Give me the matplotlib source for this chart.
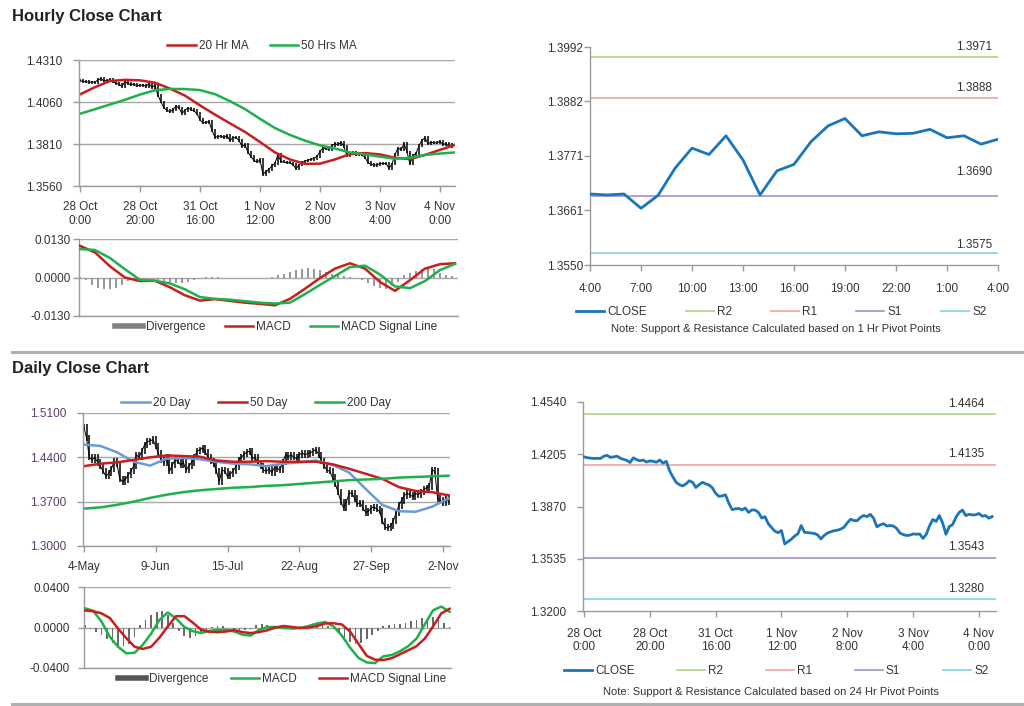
import numpy as np
import matplotlib
matplotlib.use('Agg')
import matplotlib.pyplot as plt
from matplotlib.lines import Line2D
from matplotlib.ticker import FormatStrFormatter

plt.rcParams['font.family'] = ['Liberation Sans', 'DejaVu Sans']

# ---------------- data ----------------
# hourly closes, 28 Oct 0:00 .. 4 Nov 4:00 (one value per hour)
hourly_close = [
    1.4188, 1.4183, 1.4180, 1.4178, 1.4179, 1.4178, 1.4192, 1.4198, 1.4185, 1.4188,
    1.4193, 1.4180, 1.4172, 1.4166, 1.4152, 1.4182, 1.4170, 1.4163, 1.4168, 1.4155,
    1.4162, 1.4160, 1.4154, 1.4168, 1.4148, 1.4160, 1.4100, 1.4060, 1.4025, 1.4010,
    1.4002, 1.4015, 1.4035, 1.4025, 1.3992, 1.4010, 1.4025, 1.4015, 1.4008, 1.3990,
    1.3955, 1.3935, 1.3938, 1.3945, 1.3892, 1.3850, 1.3855, 1.3858, 1.3848, 1.3860,
    1.3832, 1.3848, 1.3847, 1.3832, 1.3796, 1.3805, 1.3760, 1.3735, 1.3712, 1.3702,
    1.3716, 1.3630, 1.3645, 1.3660, 1.3680, 1.3695, 1.3748, 1.3705, 1.3702, 1.3700,
    1.3697, 1.3688, 1.3662, 1.3685, 1.3700, 1.3708, 1.3715, 1.3718, 1.3725, 1.3737,
    1.3765, 1.3788, 1.3780, 1.3779, 1.3800, 1.3812, 1.3805, 1.3820, 1.3795, 1.3740,
    1.3752, 1.3760, 1.3745, 1.3748, 1.3745, 1.3730, 1.3700, 1.3690, 1.3684, 1.3686,
    1.3694, 1.3692, 1.3694, 1.3665, 1.3691, 1.3746, 1.3787, 1.3774, 1.3812, 1.3763,
    1.3692, 1.3741, 1.3754, 1.3800, 1.3832, 1.3847, 1.3812, 1.3820, 1.3816, 1.3817,
    1.3825, 1.3808, 1.3812, 1.3795, 1.3805]
hourly_ticks = ['28 Oct\n0:00', '28 Oct\n20:00', '31 Oct\n16:00', '1 Nov\n12:00',
                '2 Nov\n8:00', '3 Nov\n4:00', '4 Nov\n0:00']

# moving averages, every 5 hours
ma_step_h = 5
ma20_hr = [1.4105, 1.4148, 1.4185, 1.4192, 1.4189, 1.4175, 1.4140, 1.4098, 1.4040, 1.3985,
           1.3933, 1.3882, 1.3822, 1.3760, 1.3718, 1.3692, 1.3693, 1.3718, 1.3750, 1.3756,
           1.3748, 1.3728, 1.3720, 1.3745, 1.3775, 1.3805]
ma50_hr = [1.3990, 1.4017, 1.4045, 1.4073, 1.4104, 1.4130, 1.4138, 1.4137, 1.4131, 1.4107,
           1.4065, 1.4018, 1.3960, 1.3905, 1.3864, 1.3830, 1.3802, 1.3783, 1.3760, 1.3748,
           1.3735, 1.3722, 1.3728, 1.3745, 1.3753, 1.3760]

# hourly MACD, every 5 hours; divergence every 2 hours
macd_hr = [0.0107, 0.0085, 0.0038, 0.0000, -0.0012, -0.0011, -0.0033, -0.0060, -0.0078, -0.0073,
           -0.0079, -0.0085, -0.0089, -0.0094, -0.0072, -0.0038, -0.0002, 0.0030, 0.0048, 0.0030,
           -0.0015, -0.0045, -0.0009, 0.0030, 0.0045, 0.0048]
signal_hr = [0.0096, 0.0093, 0.0066, 0.0028, -0.0008, -0.0011, -0.0020, -0.0040, -0.0066, -0.0072,
             -0.0075, -0.0080, -0.0085, -0.0088, -0.0085, -0.0056, -0.0025, 0.0005, 0.0035, 0.0040,
             0.0010, -0.0030, -0.0036, -0.0012, 0.0025, 0.0046]
div_step_h = 2
div_hr = [0.0003, -0.0010, -0.0025, -0.0036, -0.0040, -0.0040, -0.0036, -0.0025, -0.0012, -0.0006,
          -0.0003, -0.0002, -0.0004, -0.0008, -0.0012, -0.0016, -0.0018, -0.0018, -0.0015, -0.0010,
          -0.0004, 0.0002, 0.0002, 0.0001, -0.0001, -0.0002, -0.0002, -0.0001, -0.0001, -0.0001,
          -0.0001, 0.0000, 0.0003, 0.0008, 0.0012, 0.0018, 0.0024, 0.0029, 0.0031, 0.0030,
          0.0025, 0.0018, 0.0012, 0.0008, 0.0005, 0.0002, -0.0003, -0.0010, -0.0018, -0.0028,
          -0.0036, -0.0038, -0.0030, -0.0015, 0.0008, 0.0015, 0.0022, 0.0030, 0.0034, 0.0028,
          0.0016, 0.0008, 0.0004]

# 1 hr pivots (last 24 hours of hourly_close)
pivot_1h_ticks = ['4:00', '7:00', '10:00', '13:00', '16:00', '19:00', '22:00', '1:00', '4:00']
pivot_1h_yticks = [1.3550, 1.3661, 1.3771, 1.3882, 1.3992]
levels_1h = {'R2': 1.3971, 'R1': 1.3888, 'S1': 1.3690, 'S2': 1.3575}

# 24 hr pivots
pivot_24h_yticks = [1.3200, 1.3535, 1.3870, 1.4205, 1.4540]
levels_24h = {'R2': 1.4464, 'R1': 1.4135, 'S1': 1.3543, 'S2': 1.3280}

# daily closes, 4 May .. 4 Nov (trading days)
daily_close = [
    1.488, 1.470, 1.440, 1.436, 1.440, 1.432, 1.426, 1.418, 1.410, 1.415,
    1.422, 1.434, 1.430, 1.406, 1.402, 1.405, 1.412, 1.418, 1.426, 1.444,
    1.440, 1.450, 1.460, 1.465, 1.466, 1.468, 1.458, 1.446, 1.436, 1.432,
    1.440, 1.418, 1.428, 1.436, 1.434, 1.428, 1.432, 1.420, 1.426, 1.432,
    1.440, 1.450, 1.452, 1.455, 1.448, 1.440, 1.434, 1.430, 1.418, 1.402,
    1.420, 1.418, 1.410, 1.414, 1.418, 1.425, 1.436, 1.440, 1.445, 1.448,
    1.450, 1.438, 1.440, 1.431, 1.426, 1.420, 1.418, 1.422, 1.416, 1.424,
    1.422, 1.420, 1.433, 1.444, 1.441, 1.444, 1.440, 1.438, 1.444, 1.447,
    1.444, 1.446, 1.447, 1.450, 1.452, 1.444, 1.434, 1.426, 1.420, 1.418,
    1.408, 1.398, 1.385, 1.370, 1.360, 1.370, 1.383, 1.384, 1.375, 1.366,
    1.368, 1.360, 1.353, 1.355, 1.360, 1.362, 1.358, 1.355, 1.340, 1.330,
    1.328, 1.332, 1.340, 1.352, 1.364, 1.372, 1.380, 1.383, 1.381, 1.378,
    1.383, 1.381, 1.385, 1.389, 1.392, 1.394, 1.420, 1.418, 1.375, 1.372,
    1.368, 1.376, 1.370]
daily_ticks = ['4-May', '9-Jun', '15-Jul', '22-Aug', '27-Sep', '2-Nov']
daily_tick_days = [0, 26, 52, 78, 104, 130]

# daily moving averages, every 6 trading days
ma_step_d = 6
ma20_day = [1.460, 1.458, 1.448, 1.433, 1.427, 1.438, 1.439, 1.437, 1.433, 1.430, 1.429, 1.426,
            1.430, 1.432, 1.435, 1.428, 1.416, 1.390, 1.365, 1.355, 1.354, 1.362, 1.375]
ma50_day = [1.426, 1.430, 1.432, 1.436, 1.440, 1.443, 1.442, 1.441, 1.435, 1.433, 1.433, 1.434,
            1.433, 1.433, 1.433, 1.429, 1.422, 1.414, 1.406, 1.393, 1.387, 1.385, 1.380]
ma200_day = [1.359, 1.361, 1.365, 1.370, 1.376, 1.381, 1.385, 1.388, 1.390, 1.392, 1.393, 1.395,
             1.396, 1.398, 1.400, 1.402, 1.404, 1.405, 1.406, 1.408, 1.409, 1.410, 1.411]

# daily MACD, every 3 days; divergence every 2 days
macd_step_d = 3
macd_day = [0.0190, 0.0165, 0.0060, -0.0090, -0.0190, -0.0255, -0.0250, -0.0170, -0.0060, 0.0075,
            0.0148, 0.0090, 0.0005, -0.0035, -0.0055, -0.0035, -0.0023, -0.0022, -0.0040, -0.0070,
            -0.0080, -0.0025, 0.0005, 0.0005, -0.0005, -0.0010, -0.0005, 0.0015, 0.0040, 0.0055,
            0.0010, -0.0080, -0.0200, -0.0300, -0.0345, -0.0352, -0.0285, -0.0272, -0.0235, -0.0185,
            -0.0110, 0.0030, 0.0170, 0.0207, 0.0155]
signal_day = [0.0168, 0.0160, 0.0140, 0.0095, -0.0010, -0.0105, -0.0190, -0.0212, -0.0190, -0.0100,
              0.0010, 0.0112, 0.0112, 0.0050, -0.0020, -0.0042, -0.0047, -0.0040, -0.0025, -0.0045,
              -0.0055, -0.0045, -0.0028, 0.0000, 0.0015, 0.0005, -0.0005, 0.0000, 0.0015, 0.0040,
              0.0042, 0.0030, -0.0040, -0.0160, -0.0280, -0.0318, -0.0322, -0.0303, -0.0265, -0.0225,
              -0.0185, -0.0110, 0.0010, 0.0140, 0.0185]
div_step_d = 2
div_day = [0.0020, -0.0010, -0.0040, -0.0070, -0.0110, -0.0150, -0.0180, -0.0185, -0.0160, -0.0090,
           0.0020, 0.0070, 0.0120, 0.0150, 0.0160, 0.0120, 0.0040, -0.0030, -0.0080, -0.0100,
           -0.0085, -0.0050, -0.0020, 0.0008, 0.0015, 0.0010, -0.0005, -0.0020, -0.0025, -0.0020,
           -0.0010, 0.0025, 0.0030, 0.0025, 0.0015, -0.0005, -0.0015, -0.0010, 0.0005, 0.0010,
           0.0015, 0.0025, 0.0030, 0.0020, 0.0010, -0.0010, -0.0050, -0.0100, -0.0140, -0.0165,
           -0.0150, -0.0110, -0.0070, -0.0030, 0.0010, 0.0025, 0.0030, 0.0035, 0.0045, 0.0060,
           0.0075, 0.0090, 0.0095, 0.0100, 0.0080, 0.0040, 0.0005]

# ---------------- style ----------------
RED = '#c81e1e'
GREEN = '#1fb04b'
BLUE_MA = '#6a9bd6'
CLOSE_BLUE = '#1b75bb'
LEVEL_COLORS = {'R2': '#b5d68e', 'R1': '#f2a9a9', 'S1': '#ab9bca', 'S2': '#8ed3ea'}
AXIS_GRAY = '#9a9a9a'
GRID_GRAY = '#a8a8a8'
TXT = '#333333'
FS = 8.5

W, H = 1024, 706
fig = plt.figure(figsize=(W / 100, H / 100), dpi=100)


def px_axes(l, t, r, b):
    return fig.add_axes([l / W, 1 - b / H, (r - l) / W, (b - t) / H])


def style(ax, grid=True):
    for s in ['top', 'right']:
        ax.spines[s].set_visible(False)
    for s in ['left', 'bottom']:
        ax.spines[s].set_color(AXIS_GRAY)
        ax.spines[s].set_linewidth(1.0)
    ax.tick_params(colors=AXIS_GRAY, labelcolor=TXT, labelsize=FS, length=4, width=1.0)
    if grid:
        ax.yaxis.grid(True, color=GRID_GRAY, lw=1.0)
    ax.set_axisbelow(True)


def price_bars(ax, close, wick):
    # bar from previous close to this close, a little extended: looks like the OHLC bars
    c = np.asarray(close)
    prev = np.concatenate([c[:1], c[:-1]])
    x = np.arange(len(c))
    ax.vlines(x, np.minimum(prev, c) - wick, np.maximum(prev, c) + wick, color='black', lw=1.1)
    ax.plot(x, c, color='black', lw=0.7)


def legend_at(handles, labels, x, y, **kw):
    fig.legend(handles, labels, loc='center', bbox_to_anchor=(x / W, 1 - y / H), ncol=len(labels),
               frameon=False, fontsize=FS, handlelength=2.4, handletextpad=0.25,
               labelcolor=TXT, **kw)


def pivot_levels(ax, levels, label_x, offsets):
    for (name, val), off in zip(levels.items(), offsets):
        ax.axhline(val, color=LEVEL_COLORS[name], lw=1.3, zorder=1)
        ax.annotate('%.4f' % val, xy=(label_x, val), xycoords=ax.get_yaxis_transform(),
                    xytext=(0, off), textcoords='offset pixels', ha='right', va='center',
                    fontsize=FS, color=TXT)


# ---------------- titles & separators ----------------
fig.text(12 / W, 1 - 16 / H, 'Hourly Close Chart', fontsize=12, fontweight='bold', color='#222222',
         va='center')
fig.text(12 / W, 1 - 369 / H, 'Daily Close Chart', fontsize=12, fontweight='bold', color='#222222',
         va='center')
for yy in (352, 704):
    fig.add_artist(Line2D([12 / W, 1.0], [1 - yy / H, 1 - yy / H], color='#b0b0b0', lw=2.2))

# ---------------- hourly price ----------------
hx = np.arange(len(hourly_close))
ax1 = px_axes(79, 60, 455, 186)
style(ax1)
price_bars(ax1, hourly_close, 0.0008)
ax1.plot(np.arange(len(ma20_hr)) * ma_step_h, ma20_hr, color=RED, lw=1.8)
ax1.plot(np.arange(len(ma50_hr)) * ma_step_h, ma50_hr, color=GREEN, lw=1.8)
ax1.set_ylim(1.3560, 1.4310)
ax1.set_yticks([1.3560, 1.3810, 1.4060, 1.4310])
ax1.yaxis.set_major_formatter(FormatStrFormatter('%.4f'))
ax1.set_xlim(-0.3, 125)
ax1.set_xticks(np.arange(len(hourly_ticks)) * 20)
ax1.set_xticklabels(hourly_ticks, linespacing=1.15)
ax1.tick_params(axis='x', pad=7)
ax1.tick_params(axis='y', pad=8)
legend_at([Line2D([], [], color=RED, lw=1.8), Line2D([], [], color=GREEN, lw=1.8)],
          ['20 Hr MA', '50 Hrs MA'], 262, 46, columnspacing=1.8)

# ---------------- hourly MACD ----------------
ax2 = px_axes(79, 239, 458, 316)
style(ax2)
ax2.bar(np.arange(len(div_hr)) * div_step_h, div_hr, width=0.5, color='#999999', zorder=2)
ax2.plot(np.arange(len(macd_hr)) * ma_step_h, macd_hr, color=RED, lw=1.8, zorder=3)
ax2.plot(np.arange(len(signal_hr)) * ma_step_h, signal_hr, color=GREEN, lw=1.8, zorder=3)
ax2.set_ylim(-0.013, 0.013)
ax2.set_yticks([-0.013, 0.0, 0.013])
ax2.yaxis.set_major_formatter(FormatStrFormatter('%.4f'))
ax2.set_xlim(-0.3, 126)
ax2.set_xticks([])
ax2.tick_params(axis='y', pad=2)
legend_at([Line2D([], [], color='#808080', lw=4), Line2D([], [], color=RED, lw=1.8),
           Line2D([], [], color=GREEN, lw=1.8)],
          ['Divergence', 'MACD', 'MACD Signal Line'], 276, 327, columnspacing=1.6)

# ---------------- 1 hr pivot chart ----------------
last = hourly_close[-(3 * (len(pivot_1h_ticks) - 1) + 1):]
ax3 = px_axes(590, 47, 998, 265)
style(ax3, grid=False)
pivot_levels(ax3, levels_1h, 0.985, [10, 10, 24, 8])
ax3.plot(np.arange(len(last)), last, color=CLOSE_BLUE, lw=2.0, zorder=3)
ax3.set_ylim(pivot_1h_yticks[0], pivot_1h_yticks[-1])
ax3.set_yticks(pivot_1h_yticks)
ax3.yaxis.set_major_formatter(FormatStrFormatter('%.4f'))
ax3.set_xlim(0, len(last) - 1)
ax3.set_xticks(np.arange(len(pivot_1h_ticks)) * 3)
ax3.set_xticklabels(pivot_1h_ticks)
ax3.tick_params(axis='x', pad=9)
ax3.tick_params(axis='y', pad=1)
pivot_handles = [Line2D([], [], color=CLOSE_BLUE, lw=2.0)] + \
                [Line2D([], [], color=LEVEL_COLORS[k], lw=1.3) for k in levels_1h]
legend_at(pivot_handles, ['CLOSE'] + list(levels_1h), 781, 312, columnspacing=3.3)
fig.text(776 / W, 1 - 329 / H, 'Note: Support & Resistance Calculated based on 1 Hr Pivot Points',
         ha='center', va='center', fontsize=8, color=TXT)

# ---------------- daily price ----------------
ax4 = px_axes(83, 413, 450, 546)
style(ax4)
price_bars(ax4, daily_close, 0.005)
ax4.plot(np.arange(len(ma20_day)) * ma_step_d, ma20_day, color=BLUE_MA, lw=1.8)
ax4.plot(np.arange(len(ma50_day)) * ma_step_d, ma50_day, color=RED, lw=1.8)
ax4.plot(np.arange(len(ma200_day)) * ma_step_d, ma200_day, color=GREEN, lw=1.8)
ax4.set_ylim(1.30, 1.51)
ax4.set_yticks([1.30, 1.37, 1.44, 1.51])
ax4.yaxis.set_major_formatter(FormatStrFormatter('%.4f'))
ax4.tick_params(axis='y', labelcolor='#5a3d6e', pad=8)
ax4.set_xlim(-0.3, 132.5)
ax4.set_xticks(daily_tick_days)
ax4.set_xticklabels(daily_ticks)
ax4.tick_params(axis='x', pad=7)
legend_at([Line2D([], [], color=BLUE_MA, lw=1.8), Line2D([], [], color=RED, lw=1.8),
           Line2D([], [], color=GREEN, lw=1.8)],
          ['20 Day', '50 Day', '200 Day'], 256, 403, columnspacing=2.4)

# ---------------- daily MACD ----------------
ax5 = px_axes(84, 587, 451, 668)
style(ax5)
ax5.bar(np.arange(len(div_day)) * div_step_d, div_day, width=0.6, color='#6a6a6a', zorder=2)
ax5.plot(np.arange(len(macd_day)) * macd_step_d, macd_day, color=GREEN, lw=1.8, zorder=3)
ax5.plot(np.arange(len(signal_day)) * macd_step_d, signal_day, color=RED, lw=1.8, zorder=3)
ax5.set_ylim(-0.04, 0.04)
ax5.set_yticks([-0.04, 0.0, 0.04])
ax5.yaxis.set_major_formatter(FormatStrFormatter('%.4f'))
ax5.set_xlim(-0.3, 132.5)
ax5.set_xticks([])
ax5.tick_params(axis='y', pad=6)
legend_at([Line2D([], [], color='#555555', lw=4), Line2D([], [], color=GREEN, lw=1.8),
           Line2D([], [], color=RED, lw=1.8)],
          ['Divergence', 'MACD', 'MACD Signal Line'], 282, 679, columnspacing=1.9)

# ---------------- 24 hr pivot chart ----------------
ax6 = px_axes(583, 402, 996, 611)
style(ax6, grid=False)
pivot_levels(ax6, levels_24h, 0.971, [10, 11, 11, 10])
ax6.plot(hx, hourly_close, color=CLOSE_BLUE, lw=2.0, zorder=3)
ax6.set_ylim(pivot_24h_yticks[0], pivot_24h_yticks[-1])
ax6.set_yticks(pivot_24h_yticks)
ax6.yaxis.set_major_formatter(FormatStrFormatter('%.4f'))
ax6.set_xlim(-0.3, 125.2)
ax6.set_xticks(np.arange(len(hourly_ticks)) * 20)
ax6.set_xticklabels(hourly_ticks, linespacing=1.15)
ax6.tick_params(axis='x', pad=8)
ax6.tick_params(axis='y', pad=8)
legend_at(pivot_handles, ['CLOSE'] + list(levels_24h), 776, 671, columnspacing=3.6)
fig.text(771 / W, 1 - 692 / H, 'Note: Support & Resistance Calculated based on 24 Hr Pivot Points',
         ha='center', va='center', fontsize=8, color=TXT)

fig.savefig('out.png', dpi=100)
